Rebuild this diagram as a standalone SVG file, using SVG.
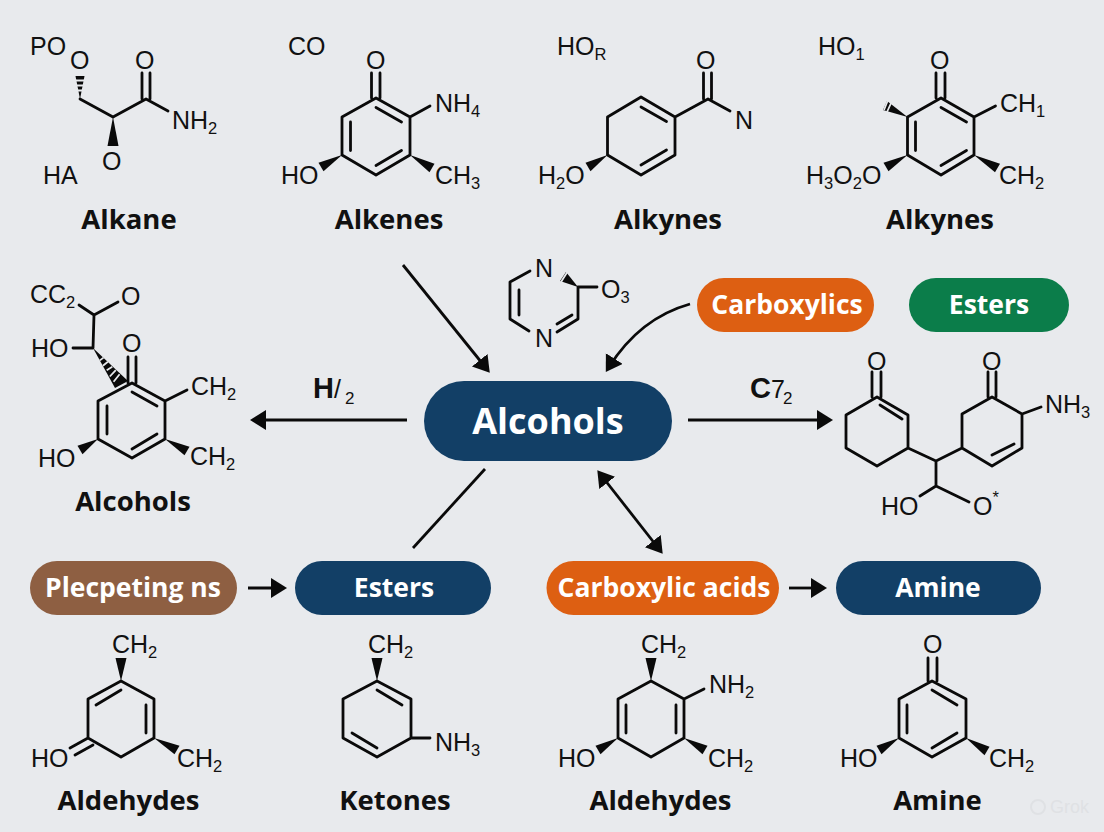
<svg xmlns="http://www.w3.org/2000/svg" width="1104" height="832" viewBox="0 0 1104 832">
<style>
.b{fill:none;stroke:#0a0a0a;stroke-width:2.8;stroke-linejoin:round;stroke-linecap:round}
.h{fill:none;stroke:#e8eaed;stroke-width:1.8}
.w{fill:#0a0a0a}
.a{font-family:"Liberation Sans",Arial,sans-serif;font-size:25px;fill:#111}
.s{font-size:16.5px}
.l{font-family:"Open Sans","Noto Sans",sans-serif;font-weight:700;font-size:27.5px;fill:#111;text-anchor:middle}
.r{font-family:"Liberation Sans",Arial,sans-serif;font-weight:700;font-size:29px;fill:#111}
.t{font-family:"Liberation Sans",Arial,sans-serif;font-weight:400;font-size:25px;fill:#111}
.u{font-family:"Liberation Sans",Arial,sans-serif;font-weight:400;font-size:17px;fill:#111}
.p{font-family:"Open Sans","Noto Sans",sans-serif;font-weight:700;font-size:26.5px;fill:#fff;text-anchor:middle}
.navy{fill:#123f66}.orange{fill:#dd5f12}.green{fill:#0b7d4a}.brown{fill:#8e5f42}
.c{fill:none;stroke:#0a0a0a;stroke-width:2.8}
</style>
<defs>
<marker id="ah" markerUnits="userSpaceOnUse" markerWidth="18" markerHeight="22" refX="10" refY="10" orient="auto-start-reverse"><path d="M0,0L16,10L0,20z" fill="#0a0a0a"/></marker>
</defs>
<rect width="1104" height="832" fill="#e8eaed"/>

<g id="connectors">
<path class="c" marker-end="url(#ah)" d="M403,265L486,368"/>
<path class="c" marker-end="url(#ah)" d="M690,304Q640,318 609,367"/>
<path class="c" marker-end="url(#ah)" d="M407,420H256"/>
<path class="c" marker-end="url(#ah)" d="M688,420H827"/>
<path class="c" d="M485,469L413,548"/>
<path class="c" marker-start="url(#ah)" marker-end="url(#ah)" d="M601,475L659,549"/>
<path class="c" marker-end="url(#ah)" d="M248,588H281"/>
<path class="c" marker-end="url(#ah)" d="M789,588H821"/>
<text class="r" x="313" y="398">H</text><text class="t" x="334" y="398">/</text><text class="u" x="345" y="404">2</text>
<text class="r" x="750" y="398">C</text><text class="t" x="771" y="398">7</text><text class="u" x="783" y="404">2</text>
</g>

<g id="node-alkane">
<path class="b" d="M80,99L113,117L146,99L168,111M142,73V99M150,73V99"/>
<polygon class="w" points="113,117 107.5,146 118.5,146"/>
<polygon class="w" points="80,99 75.5,76 84.5,76"/>
<path class="h" d="M75,80.5H85M75,85.5H85M75,90.5H85"/>
<text class="a" x="30" y="55">PO</text><text class="a" x="70" y="69">O</text><text class="a" x="135" y="69">O</text>
<text class="a" x="102" y="170">O</text><text class="a" x="172" y="129">NH<tspan class="s" dy="5">2</tspan></text>
<text class="a" x="43" y="184">HA</text><text class="l" x="129" y="229">Alkane</text>
</g>

<g id="node-alkenes">
<path class="b" d="M376,98L410,117V155L376,175L342,155V117ZM376,107.5L401.5,122M401.5,150.5L376,165.5M350.5,122V150.5M371.5,73V98M380,73V98M410,117L430,106"/>
<polygon class="w" points="342,155 323.5,171.3 318.5,162.7"/><polygon class="w" points="410,155 434.5,163.7 429.5,172.3"/>
<text class="a" x="288" y="55">CO</text><text class="a" x="366" y="69">O</text>
<text class="a" x="435" y="112">NH<tspan class="s" dy="5">4</tspan></text>
<text class="a" x="281" y="184">HO</text><text class="a" x="435" y="184">CH<tspan class="s" dy="5">3</tspan></text>
<text class="l" x="389" y="229">Alkenes</text>
</g>

<g id="node-alkynes-1">
<path class="b" d="M641,97L675,117V155L641,175L607.5,155V117ZM641,107L666.5,121.5M666.5,150L641,165M675,117L708,99L730,111M703.5,73V99M711.5,73V99"/>
<polygon class="w" points="607.5,155 590.5,171.3 585.5,162.7"/>
<text class="a" x="557" y="55">HO<tspan class="s" dy="5">R</tspan></text><text class="a" x="696" y="69">O</text>
<text class="a" x="735" y="129">N</text>
<text class="a" x="538" y="184">H<tspan class="s" dy="5">2</tspan><tspan dy="-5">O</tspan></text>
<text class="l" x="668" y="229">Alkynes</text>
</g>

<g id="node-alkynes-2">
<path class="b" d="M941,98L974,117V155L941,175L907.5,155V117ZM941,107.5L966.5,122M966.5,150.5L941,165.5M915.5,122V150.5M936,73V98M945,73V98M974,117L995.5,106"/>
<polygon class="w" points="974,155 1000,163.7 995,172.3"/><polygon class="w" points="907.5,155 888.5,171.3 883.5,162.7"/>
<polygon class="w" points="907.5,117 887,101 883,110"/>
<path class="h" d="M892,101L887,112M888,100L884,110"/>
<text class="a" x="818" y="55">HO<tspan class="s" dy="5">1</tspan></text><text class="a" x="930" y="69">O</text>
<text class="a" x="1000" y="112">CH<tspan class="s" dy="5">1</tspan></text>
<text class="a" x="999" y="184">CH<tspan class="s" dy="5">2</tspan></text>
<text class="a" x="806" y="184">H<tspan class="s" dy="5">3</tspan><tspan dy="-5">O</tspan><tspan class="s" dy="5">2</tspan><tspan dy="-5">O</tspan></text>
<text class="l" x="940" y="229">Alkynes</text>
</g>

<g id="node-alcohols-left">
<polygon class="w" points="93,348 115,388 128,381"/>
<path class="h" d="M99.9,360.4L103.5,357.6M102.9,365.8L107.9,361.8M106.7,370.3L112.3,366.7M109.8,376.5L115.8,370.1M113.6,381.8L119.6,374.2"/>
<path class="b" d="M79,305L94,315L118,302M94,315L93,348M73,348H93M128,357V383M136,357V383M132,383L165,401V439L132,458L98,439V401ZM132,392L157,406M157,434L132,449M107,406V434M165,401L187,390"/>
<polygon class="w" points="165,439 189.5,446.7 184.5,455.3"/><polygon class="w" points="98,439 82.5,454.3 77.5,445.7"/>
<text class="a" x="30" y="303">CC<tspan class="s" dy="5">2</tspan></text><text class="a" x="121" y="305">O</text>
<text class="a" x="31" y="357">HO</text><text class="a" x="122" y="352">O</text>
<text class="a" x="191" y="395">CH<tspan class="s" dy="5">2</tspan></text>
<text class="a" x="190" y="465">CH<tspan class="s" dy="5">2</tspan></text>
<text class="a" x="38" y="467">HO</text><text class="l" x="133" y="511">Alcohols</text>
</g>

<g id="node-pyrazine">
<path class="b" d="M530,271L510,282V319L529,331M557,332L578,319V287M519,290V315M557,324L572,315M578,287H597"/>
<polygon class="w" points="578,287 566,272 560,281"/>
<path class="h" d="M568,271L561,282M565,270L558,281"/>
<text class="a" x="535" y="277">N</text><text class="a" x="535" y="347">N</text>
<text class="a" x="601" y="298">O<tspan class="s" dy="5">3</tspan></text>
</g>

<g id="node-biring">
<path class="b" d="M877,397L908,415V448L877,466L846,448V415ZM880,405L902,419M872,372V397M881,372V397M908,448L936,461L962,448M962,448V414L992,397L1022,414V448L992,466ZM992,455L1014,444M988,372V397M996,372V397M1022,414L1041,407M936,461V486L920,496M936,486L969,502"/>
<text class="a" x="867" y="370">O</text><text class="a" x="982" y="370">O</text>
<text class="a" x="1045" y="413">NH<tspan class="s" dy="5">3</tspan></text>
<text class="a" x="881" y="515">HO</text><text class="a" x="973" y="515">O<tspan class="s" dy="-12">*</tspan></text>
</g>

<g id="node-alcohols-center"><rect class="navy" x="424" y="381" width="248" height="80" rx="40"/><text class="p" x="548" y="434" style="font-size:36px">Alcohols</text></g>
<g id="node-carboxylics"><rect class="orange" x="697" y="278" width="177" height="54" rx="27"/><text class="p" x="787" y="314">Carboxylics</text></g>
<g id="node-esters-top"><rect class="green" x="909" y="278" width="160" height="54" rx="27"/><text class="p" x="989" y="314">Esters</text></g>
<g id="node-plecpeting"><rect class="brown" x="30" y="561" width="207" height="54" rx="27"/><text class="p" x="133" y="597">Plecpeting ns</text></g>
<g id="node-esters"><rect class="navy" x="295" y="561" width="196" height="54" rx="27"/><text class="p" x="394" y="597">Esters</text></g>
<g id="node-carboxylic-acids"><rect class="orange" x="546.5" y="561" width="232.5" height="54" rx="27"/><text class="p" x="664" y="597">Carboxylic acids</text></g>
<g id="node-amine-pill"><rect class="navy" x="836" y="561" width="205" height="54" rx="27"/><text class="p" x="938" y="597">Amine</text></g>

<g id="node-aldehydes-1">
<path class="b" d="M121,681L154,699V738L121,757L88,738V699ZM96,705L121,690M146,705V733M88,738L70,748M93,745L75,755"/>
<polygon class="w" points="121,681 115.5,658 126.5,658"/><polygon class="w" points="154,738 179.5,745.7 174.5,754.3"/>
<text class="a" x="112" y="653">CH<tspan class="s" dy="5">2</tspan></text><text class="a" x="177" y="767">CH<tspan class="s" dy="5">2</tspan></text>
<text class="a" x="31" y="767">HO</text><text class="l" x="128.5" y="810">Aldehydes</text>
</g>

<g id="node-ketones">
<path class="b" d="M377,681L411,699V738L377,757L343,738V699ZM377,690L402,705M352,733L377,748M411,738H430"/>
<polygon class="w" points="377,681 371.5,658 382.5,658"/>
<text class="a" x="368" y="653">CH<tspan class="s" dy="5">2</tspan></text>
<text class="a" x="435" y="751">NH<tspan class="s" dy="5">3</tspan></text>
<text class="l" x="395" y="810">Ketones</text>
</g>

<g id="node-aldehydes-2">
<path class="b" d="M651,681L684,699V738L651,757L618,738V699ZM626,705V733M676,705V733M684,699L704,689"/>
<polygon class="w" points="651,681 645.5,658 656.5,658"/><polygon class="w" points="684,738 707.5,745.7 702.5,754.3"/><polygon class="w" points="618,738 600.5,754.3 595.5,745.7"/>
<text class="a" x="641" y="653">CH<tspan class="s" dy="5">2</tspan></text>
<text class="a" x="709" y="693">NH<tspan class="s" dy="5">2</tspan></text>
<text class="a" x="708" y="767">CH<tspan class="s" dy="5">2</tspan></text>
<text class="a" x="558" y="767">HO</text>
<text class="l" x="660.5" y="810">Aldehydes</text>
</g>

<g id="node-amine">
<path class="b" d="M932,681L966,699V738L932,757L899,738V699ZM932,690L957,705M957,733L932,748M907,705V733M928,658V681M937,658V681"/>
<polygon class="w" points="966,738 989.5,746.7 984.5,755.3"/><polygon class="w" points="899,738 881.5,754.3 876.5,745.7"/>
<text class="a" x="923" y="653">O</text>
<text class="a" x="989" y="767">CH<tspan class="s" dy="5">2</tspan></text>
<text class="a" x="840" y="767">HO</text>
<text class="l" x="937.5" y="810">Amine</text>
</g>

<g id="watermark"><circle cx="1038" cy="807" r="7" fill="none" stroke="#dfe1e4" stroke-width="2"/><text x="1050" y="813" font-family="Liberation Sans,sans-serif" font-size="18" fill="#dfe1e4">Grok</text></g>
</svg>
